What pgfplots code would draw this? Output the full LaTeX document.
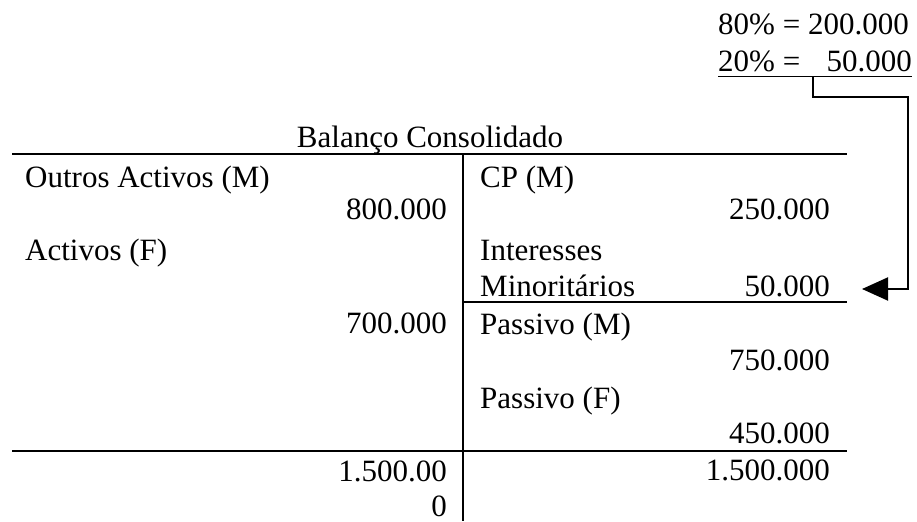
\documentclass[border=0pt]{standalone}
\usepackage{pgfplots}
\pgfplotsset{compat=1.18}
\usepackage{fontspec}
\setmainfont{Liberation Serif}
\usetikzlibrary{arrows.meta}
\tikzset{t/.style={font=\fontsize{31bp}{36bp}\selectfont, inner sep=0pt}}
\begin{document}
\fontsize{31bp}{36bp}\selectfont
\begin{tikzpicture}
\begin{axis}[
  scale only axis, width=917bp, height=521bp,
  xmin=0, xmax=917, ymin=0, ymax=521, y dir=reverse,
  hide axis, clip=false,
]
% invisible frame
\addplot[draw=none] coordinates {(0,0) (917,521)};
% T-account lines
\addplot[black, line width=2.5bp] coordinates {(12,154) (847,154)};
\addplot[black, line width=1.8bp] coordinates {(463,153) (463,521)};
\addplot[black, line width=2bp] coordinates {(463,302) (847,302)};
\addplot[black, line width=2.8bp] coordinates {(12,451) (847,451)};
% note underline and connector
\addplot[black, line width=1.6bp] coordinates {(718,76.5) (912,76.5)};
\addplot[black, line width=2bp, -{Triangle[length=26bp, width=23bp]}] coordinates {(813,76.5) (813,97) (908,97) (908,289) (862,289)};
% title
\node[t, anchor=base] at (axis cs:430,147) {Balanço Consolidado};
% note
\node[t, anchor=base west] at (axis cs:718,35) {80\% = 200.000};
\node[t, anchor=base west] at (axis cs:718,72) {20\% =};
\node[t, anchor=base east] at (axis cs:912,72) {50.000};
% left column
\node[t, anchor=base west] at (axis cs:25,187) {Outros Activos (M)};
\node[t, anchor=base east] at (axis cs:447,219) {800.000};
\node[t, anchor=base west] at (axis cs:25,260) {Activos (F)};
\node[t, anchor=base east] at (axis cs:447,333) {700.000};
\node[t, anchor=base east] at (axis cs:447,481) {1.500.00};
\node[t, anchor=base east] at (axis cs:447,516) {0};
% right column
\node[t, anchor=base west] at (axis cs:480,187) {CP (M)};
\node[t, anchor=base east] at (axis cs:830,219) {250.000};
\node[t, anchor=base west] at (axis cs:480,260) {Interesses};
\node[t, anchor=base west] at (axis cs:480,296) {Minoritários};
\node[t, anchor=base east] at (axis cs:830,296) {50.000};
\node[t, anchor=base west] at (axis cs:480,334) {Passivo (M)};
\node[t, anchor=base east] at (axis cs:830,370) {750.000};
\node[t, anchor=base west] at (axis cs:480,408) {Passivo (F)};
\node[t, anchor=base east] at (axis cs:830,443) {450.000};
\node[t, anchor=base east] at (axis cs:830,480) {1.500.000};
\end{axis}
\end{tikzpicture}
\end{document}
